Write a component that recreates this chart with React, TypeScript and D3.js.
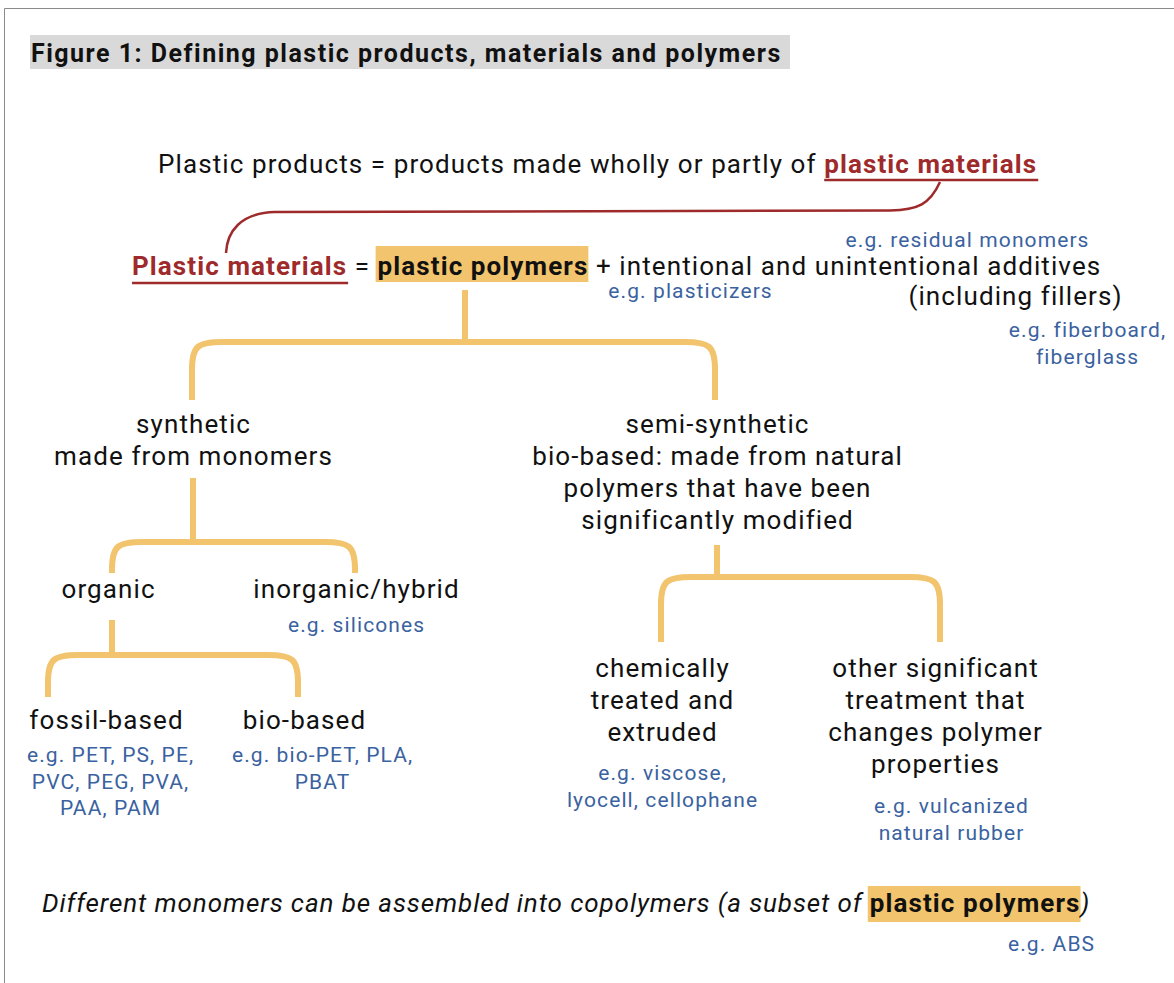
import React, { useEffect, useRef } from "react";
import * as d3 from "d3";

const W = 1174;
const H = 983;
const FONT = "Roboto, 'Noto Sans', sans-serif";
const RED = "#9e2a2b";
const BLUE = "#3a62a0";
const ORANGE = "#f2c46d";
const TITLE_BG = "#d9d9d9";

const titleText = "Figure 1: Defining plastic products, materials and polymers";

type Seg = { t: string; kind?: "red" | "hl" | "it" };

const line1Segs: Seg[] = [
  { t: "Plastic products = products made wholly or partly of " },
  { t: "plastic materials", kind: "red" },
];
const line2Segs: Seg[] = [
  { t: "Plastic materials", kind: "red" },
  { t: " = " },
  { t: "plastic polymers", kind: "hl" },
  { t: " + intentional and unintentional additives" },
];
const bottomSegs: Seg[] = [
  { t: "Different monomers can be assembled into copolymers (a subset of ", kind: "it" },
  { t: "plastic polymers", kind: "hl" },
  { t: ")", kind: "it" },
];

// category labels (black) and examples (blue)
const nodeIds = ["synthetic", "semi", "organic", "inorganic", "fossil", "biobased", "chemical", "other", "fillers"];
const nodeLabels: Record<string, string[]> = {
  synthetic: ["synthetic", "made from monomers"],
  semi: ["semi-synthetic", "bio-based: made from natural", "polymers that have been", "significantly modified"],
  organic: ["organic"],
  inorganic: ["inorganic/hybrid"],
  fossil: ["fossil-based"],
  biobased: ["bio-based"],
  chemical: ["chemically", "treated and", "extruded"],
  other: ["other significant", "treatment that", "changes polymer", "properties"],
  fillers: ["(including fillers)"],
};
const exampleIds = ["residual", "plasticizers", "fiber", "silicones", "fossilEx", "bioEx", "viscose", "vulcan", "abs"];
const exampleLabels: Record<string, string[]> = {
  residual: ["e.g. residual monomers"],
  plasticizers: ["e.g. plasticizers"],
  fiber: ["e.g. fiberboard,", "fiberglass"],
  silicones: ["e.g. silicones"],
  fossilEx: ["e.g. PET, PS, PE,", "PVC, PEG, PVA,", "PAA, PAM"],
  bioEx: ["e.g. bio-PET, PLA,", "PBAT"],
  viscose: ["e.g. viscose,", "lyocell, cellophane"],
  vulcan: ["e.g. vulcanized", "natural rubber"],
  abs: ["e.g. ABS"],
};

// layout (x center, first baseline, line height)
const nodePos: Record<string, [number, number, number]> = {
  synthetic: [193, 433, 32],
  semi: [717, 433, 32],
  organic: [108, 598, 32],
  inorganic: [356, 598, 32],
  fossil: [106, 729, 32],
  biobased: [304, 729, 32],
  chemical: [662, 677, 32],
  other: [935, 677, 32],
  fillers: [1015, 305, 32],
};
const examplePos: Record<string, [number, number, number]> = {
  residual: [967, 247, 27],
  plasticizers: [690, 298, 27],
  fiber: [1087, 337, 27],
  silicones: [356, 632, 27],
  fossilEx: [110, 762, 26.5],
  bioEx: [322, 762, 26.5],
  viscose: [662, 780, 26.5],
  vulcan: [951, 813, 27],
  abs: [1051, 951, 27],
};

// brackets: stem x, stem top, bracket top y, left x, right x, bottom y
const brackets: [number, number, number, number, number, number][] = [
  [465, 290, 342, 192, 715, 400],
  [193, 478, 542, 112, 355, 573],
  [112, 620, 655, 48, 298, 697],
  [717, 545, 577, 661, 940, 642],
];

export default function App() {
  const ref = useRef<SVGSVGElement>(null);

  useEffect(() => {
    const svg = d3.select(ref.current!);
    svg.selectAll("*").remove();
    const bgLayer = svg.append("g");
    const lineLayer = svg.append("g");
    const textLayer = svg.append("g");

    // frame
    bgLayer
      .append("path")
      .attr("d", `M${W + 5},8.5 H4.5 V${H + 5}`)
      .attr("fill", "none")
      .attr("stroke", "#8a8a8a")
      .attr("stroke-width", 1);

    // title
    bgLayer.append("rect").attr("x", 30).attr("y", 35).attr("width", 760).attr("height", 34).attr("fill", TITLE_BG);
    textLayer
      .append("text")
      .attr("x", 31)
      .attr("y", 62)
      .attr("font-family", FONT)
      .attr("font-weight", 700)
      .attr("font-size", 25)
      .attr("letter-spacing", 1.5)
      .attr("fill", "#111")
      .text(titleText);

    const MAIN = 26;
    const MAIN_LS = 1.1;
    const EX = 21;
    const EX_LS = 1.1;

    const rich = (segs: Seg[], x: number, y: number, ls: number, ulOffset: number, hlTop: number, hlBot: number) => {
      const t = textLayer
        .append("text")
        .attr("x", x)
        .attr("y", y)
        .attr("font-family", FONT)
        .attr("font-size", MAIN)
        .attr("letter-spacing", ls)
        .attr("fill", "#111")
        .attr("xml:space", "preserve")
        .style("white-space", "pre");
      segs.forEach((s) => {
        const sp = t.append("tspan").text(s.t);
        if (s.kind === "red") sp.attr("fill", RED).attr("font-weight", 700);
        if (s.kind === "hl") sp.attr("font-weight", 700).attr("letter-spacing", MAIN_LS);
        if (s.kind === "it") sp.attr("font-style", "italic");
      });
      const node = t.node() as SVGTextElement;
      let idx = 0;
      segs.forEach((s) => {
        const n = s.t.length;
        if (s.kind === "red" || s.kind === "hl") {
          const x0 = node.getStartPositionOfChar(idx).x;
          const last = node.getEndPositionOfChar(idx + n - 1).x;
          if (s.kind === "red") {
            lineLayer
              .append("line")
              .attr("x1", x0)
              .attr("x2", last + 1)
              .attr("y1", y + ulOffset)
              .attr("y2", y + ulOffset)
              .attr("stroke", RED)
              .attr("stroke-width", 2.5);
          } else {
            bgLayer
              .append("rect")
              .attr("x", x0 - 2)
              .attr("y", y - hlTop)
              .attr("width", last - x0 + 2)
              .attr("height", hlTop + hlBot)
              .attr("fill", ORANGE);
          }
        }
        idx += n;
      });
    };

    rich(line1Segs, 158, 173, MAIN_LS, 7, 29, 7);
    rich(line2Segs, 132, 275, MAIN_LS, 8, 29, 7);
    rich(bottomSegs, 42, 912, 0.9, 8, 26, 10);

    // red connector curve
    const p = d3.path();
    p.moveTo(940, 182);
    p.bezierCurveTo(930, 204, 918, 210, 890, 210.5);
    p.lineTo(275, 212);
    p.bezierCurveTo(240, 213, 227, 232, 226, 253);
    lineLayer.append("path").attr("d", p.toString()).attr("fill", "none").attr("stroke", RED).attr("stroke-width", 2.5);

    // orange brackets
    brackets.forEach(([sx, sTop, top, xl, xr, bot]) => {
      const r = 30;
      const b = d3.path();
      b.moveTo(sx, sTop);
      b.lineTo(sx, top);
      b.moveTo(xl, bot);
      b.lineTo(xl, top + r * 0.9);
      b.bezierCurveTo(xl, top + 4, xl + 6, top, xl + r, top);
      b.lineTo(xr - r, top);
      b.bezierCurveTo(xr - 6, top, xr, top + 4, xr, top + r * 0.9);
      b.lineTo(xr, bot);
      lineLayer
        .append("path")
        .attr("d", b.toString())
        .attr("fill", "none")
        .attr("stroke", ORANGE)
        .attr("stroke-width", 6);
    });

    // node labels
    nodeIds.forEach((id) => {
      const [cx, y0, lh] = nodePos[id];
      nodeLabels[id].forEach((ln, i) => {
        textLayer
          .append("text")
          .attr("x", cx + MAIN_LS / 2)
          .attr("y", y0 + i * lh)
          .attr("text-anchor", "middle")
          .attr("font-family", FONT)
          .attr("font-size", MAIN)
          .attr("letter-spacing", MAIN_LS)
          .attr("fill", "#111")
          .text(ln);
      });
    });

    exampleIds.forEach((id) => {
      const [cx, y0, lh] = examplePos[id];
      exampleLabels[id].forEach((ln, i) => {
        textLayer
          .append("text")
          .attr("x", cx + EX_LS / 2)
          .attr("y", y0 + i * lh)
          .attr("text-anchor", "middle")
          .attr("font-family", FONT)
          .attr("font-size", EX)
          .attr("letter-spacing", EX_LS)
          .attr("fill", BLUE)
          .text(ln);
      });
    });
  }, []);

  return (
    <svg
      ref={ref}
      width={W}
      height={H}
      viewBox={`0 0 ${W} ${H}`}
      style={{ position: "absolute", left: 0, top: 0, background: "#fff", display: "block" }}
    />
  );
}
